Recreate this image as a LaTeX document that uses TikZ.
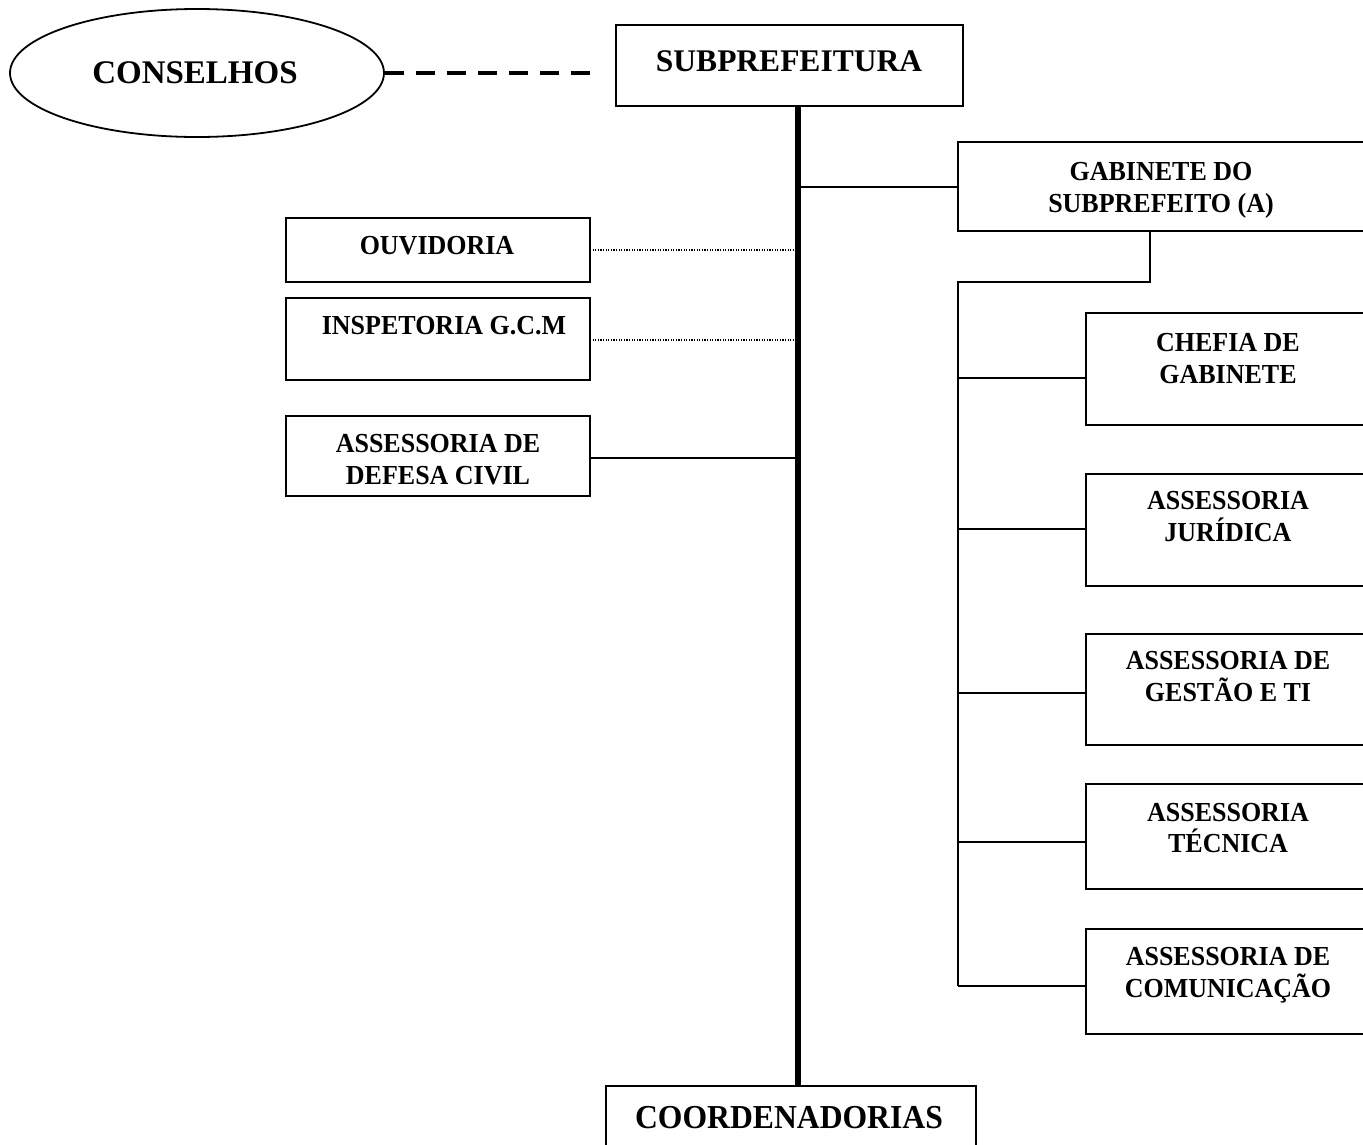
\documentclass[tikz,border=0pt]{standalone}
\usepackage{fontspec}
\setmainfont{Liberation Serif}
\newfontfamily\lblfont{Liberation Serif}[FakeStretch=0.945]
\usetikzlibrary{shapes.geometric}
\begin{document}
\begin{tikzpicture}[x=1pt,y=-1pt,
  box/.style={draw,line width=2pt,rectangle,inner sep=0pt,outer sep=0pt,anchor=north west},
  lbl/.style={inner sep=0pt,anchor=base,font=\lblfont\fontsize{27.5}{32}\bfseries\selectfont},
  big/.style={inner sep=0pt,anchor=base,font=\fontsize{31.5}{37}\bfseries\selectfont},
  conn/.style={line width=2pt},
  dotc/.style={line width=1.2pt,dash pattern=on 1.2pt off 1.4pt},
  spine/.style={line width=6.5pt},
  dashc/.style={line width=4pt,dash pattern=on 19pt off 12pt}]
\useasboundingbox (0,0) rectangle (1363,1144);
\clip (0,0) rectangle (1363,1144);

% main boxes
\node[draw,ellipse,line width=1.8pt,minimum width=374pt,minimum height=128pt,inner sep=0pt] (cons) at (197,73) {};
\node[box,minimum width=347pt,minimum height=81pt] (sub) at (616,25) {};
\node[box,minimum width=370pt,minimum height=120pt] (coord) at (606,1086) {};

\node[big,font=\fontsize{33}{39}\bfseries\selectfont] (tcons) at (195,83) {CONSELHOS};
\node[big] (tsub) at (789,71) {SUBPREFEITURA};
\node[big,font=\lblfont\fontsize{33.5}{39}\bfseries\selectfont] (tcoord) at (789,1128) {COORDENADORIAS};

% spine
\coordinate (sp) at (798,0);
\draw[spine] (sp |- sub.south) -- (sp |- coord.north);
\coordinate (dashend) at (595,73);
\draw[dashc] (cons.east) -- (dashend);

% left boxes
\node[box,minimum width=304pt,minimum height=64pt] (ouv) at (286,218) {};
\node[box,minimum width=304pt,minimum height=82pt] (insp) at (286,298) {};
\node[box,minimum width=304pt,minimum height=80pt] (def) at (286,416) {};
\node[lbl] (touv) at (437,254) {OUVIDORIA};
\node[lbl] (tinsp) at (444,334) {INSPETORIA G.C.M};
\node[lbl] (tdef1) at (438,452) {ASSESSORIA DE};
\node[lbl] (tdef2) at (438,484) {DEFESA CIVIL};
\draw[dotc] (ouv.east |- 0,250) -- (sp |- 0,250);
\draw[dotc] (insp.east |- 0,340) -- (sp |- 0,340);
\draw[conn] (def.east |- 0,458) -- (sp |- 0,458);

% gabinete
\node[box,minimum width=420pt,minimum height=89pt] (gab) at (958,142) {};
\node[lbl] (tgab1) at (1161,180) {GABINETE DO};
\node[lbl] (tgab2) at (1161,212) {SUBPREFEITO (A)};
\draw[conn] (sp |- gab.west) -- (gab.west);

% branch
\coordinate (drop) at (1150,282);
\coordinate (br) at (958,282);
\coordinate (brend) at (958,986);
\draw[conn] (drop |- gab.south) -- (drop) -- (br) -- (brend);

% right boxes
\node[box,minimum width=290pt,minimum height=112pt] (chef) at (1086,313) {};
\node[box,minimum width=290pt,minimum height=112pt] (jur) at (1086,474) {};
\node[box,minimum width=290pt,minimum height=111pt] (gest) at (1086,634) {};
\node[box,minimum width=290pt,minimum height=105pt] (tec) at (1086,784) {};
\node[box,minimum width=290pt,minimum height=105pt] (com) at (1086,929) {};

\node[lbl] (tchef1) at (1228,351) {CHEFIA DE};
\node[lbl] (tchef2) at (1228,383) {GABINETE};
\node[lbl] (tjur1) at (1228,509) {ASSESSORIA};
\node[lbl] (tjur2) at (1228,541) {JURÍDICA};
\node[lbl] (tgest1) at (1228,669) {ASSESSORIA DE};
\node[lbl] (tgest2) at (1228,701) {GESTÃO E TI};
\node[lbl] (ttec1) at (1228,821) {ASSESSORIA};
\node[lbl] (ttec2) at (1228,852) {TÉCNICA};
\node[lbl] (tcom1) at (1228,965) {ASSESSORIA DE};
\node[lbl] (tcom2) at (1228,997) {COMUNICAÇÃO};

\draw[conn] (br |- 0,378) -- (chef.west |- 0,378);
\draw[conn] (br |- 0,529) -- (jur.west |- 0,529);
\draw[conn] (br |- 0,693) -- (gest.west |- 0,693);
\draw[conn] (br |- 0,842) -- (tec.west |- 0,842);
\draw[conn] (brend) -- (com.west |- brend);
\end{tikzpicture}
\end{document}
